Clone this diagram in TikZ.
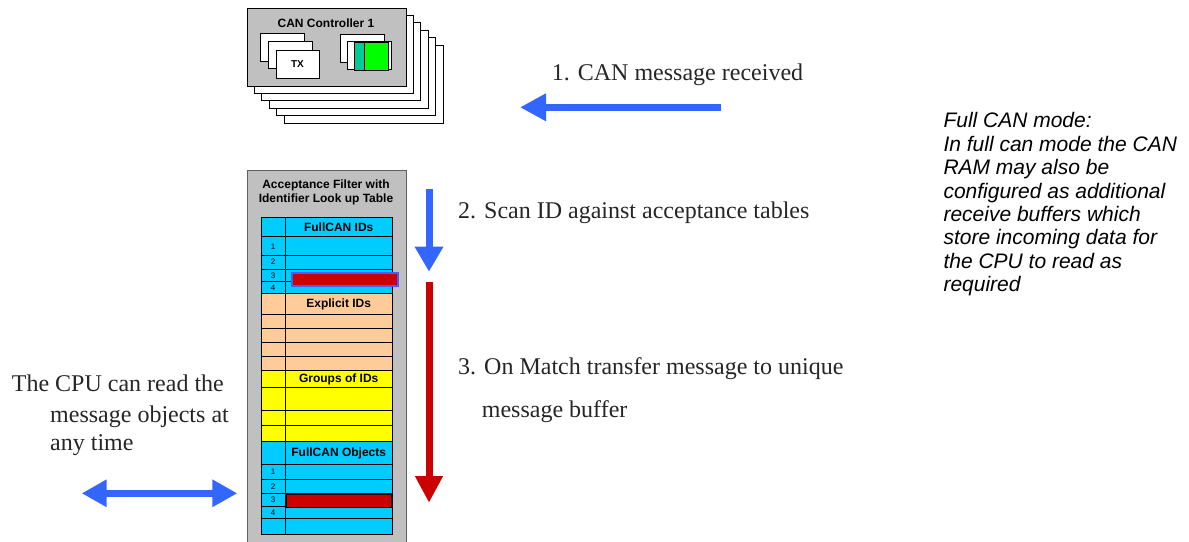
\documentclass[tikz,border=0pt]{standalone}
\usepackage{fontspec}
\setmainfont{Liberation Serif}
\newfontfamily\arial{Liberation Sans}
\usetikzlibrary{arrows.meta}
\definecolor{cgray}{HTML}{C0C0C0}
\definecolor{cdgray}{HTML}{606060}
\definecolor{ccyan}{HTML}{00CCFF}
\definecolor{cpeach}{HTML}{FFCC99}
\definecolor{cyell}{HTML}{FFFF00}
\definecolor{cred}{HTML}{CC0000}
\definecolor{cblue}{HTML}{3366FF}
\definecolor{cbord}{HTML}{4060FF}
\definecolor{cteal}{HTML}{00CC99}
\definecolor{cgreen}{HTML}{00FF00}
\tikzset{
  box/.style={draw=black, line width=0.8pt},
  tline/.style={draw=black, line width=0.8pt},
  hdr/.style={font=\arial\bfseries\fontsize{12}{14}\selectfont, inner sep=0pt},
  num/.style={font=\arial\fontsize{8}{9}\selectfont, inner sep=0pt},
  serif/.style={font=\fontsize{24}{29}\selectfont, inner sep=0pt, anchor=base west, text=black!85},
  fatblue/.style={cblue, line width=7pt},
  fatred/.style={cred, line width=7pt},
}
\begin{document}
\begin{tikzpicture}[x=1pt,y=-1pt]
\useasboundingbox (0,0) rectangle (1189,541);
% ---- CAN controller stack
\foreach \k in {5,4,3,2,1}
  \draw[box, fill=white] (246.7+7.45*\k, 8+7.4*\k) rectangle ++(159,78);
\node[box, fill=cgray, anchor=north west, minimum width=159pt, minimum height=78pt, inner sep=0pt] (ctrl) at (246.7,8) {};
\node[hdr] (ctrlt) at (326,23) {CAN Controller 1};
\draw[box, fill=white] (260.7,33.3) rectangle (304.3,61);
\draw[box, fill=white] (268.3,41.7) rectangle (312.3,68.3);
\node[box, fill=white, anchor=north west, minimum width=43.3pt, minimum height=28.3pt, inner sep=0pt] (tx) at (275.7,50) {};
\node[font=\arial\bfseries\fontsize{10}{12}\selectfont, inner sep=0pt] (txt) at (297.5,64) {TX};
\draw[box, fill=white] (340,34.3) rectangle (384,62.3);
\draw[box, fill=white] (347.7,41.7) rectangle (391.7,69.3);
\node[box, fill=cteal, anchor=north west, minimum width=10pt, minimum height=27.7pt, inner sep=0pt] (rxa) at (354,42.3) {};
\node[box, fill=cgreen, anchor=north west, minimum width=24.3pt, minimum height=27.7pt, inner sep=0pt] (rxb) at (364,42.3) {};
% ---- acceptance filter box
\node[draw=cdgray, line width=0.8pt, fill=cgray, anchor=north west, minimum width=159pt, minimum height=380pt, inner sep=0pt] (acc) at (246.7,170) {};
\node[hdr, align=center] (acct) at (326,192) {Acceptance Filter with\\Identifier Look up Table};
% table fills
\fill[ccyan] (260.7,217.3) rectangle (391.7,293.3);
\fill[cpeach] (260.7,293.3) rectangle (391.7,370.7);
\fill[cyell] (260.7,370.7) rectangle (391.7,441.7);
\fill[ccyan] (260.7,441.7) rectangle (391.7,534);
\foreach \yy in {236.7,255,269.3,281.7,293.3,314,328,342.7,356,370.7,387.3,410.7,425,441.7,464.3,479.3,493.3,506.7,518.3}
  \draw[tline] (260.7,\yy) -- (391.7,\yy);
\draw[tline] (285.7,217.3) -- (285.7,534);
\node[draw=black, line width=0.8pt, anchor=north west, minimum width=131pt, minimum height=316.7pt, inner sep=0pt] (tab) at (260.7,217.3) {};
% headers
\node[hdr] (h1) at (338.7,227.5) {FullCAN IDs};
\node[hdr] (h2) at (338.7,304) {Explicit IDs};
\node[hdr] (h3) at (338.7,379.2) {Groups of IDs};
\node[hdr] (h4) at (338.7,453.2) {FullCAN Objects};
% numbers
\node[num] (n1) at (273.2,246.8) {1};
\node[num] (n2) at (273.2,262.2) {2};
\node[num] (n3) at (273.2,275.5) {3};
\node[num] (n4) at (273.2,287.5) {4};
\node[num] (m1) at (273.2,471.8) {1};
\node[num] (m2) at (273.2,486.3) {2};
\node[num] (m3) at (273.2,500) {3};
\node[num] (m4) at (273.2,512.5) {4};
% red bars
\node[draw=cbord, line width=1.5pt, fill=cred, anchor=north west, minimum width=106.3pt, minimum height=12.7pt, inner sep=0pt] (hit) at (291,272.3) {};
\node[draw=black, line width=1.5pt, fill=cred, anchor=north west, minimum width=105pt, minimum height=13.2pt, inner sep=0pt] (obj) at (285.7,493.3) {};
% ---- arrows
\coordinate (a1s) at (721,107.3);
\coordinate (a1e) at (520,107.3);
\draw[fatblue, -{Triangle[length=26pt,width=26pt]}] (a1s) -- (a1e);
\coordinate (a2s) at (429,189.3);
\coordinate (a2e) at (429,271.7);
\draw[fatblue, -{Triangle[length=25pt,width=27pt]}] (a2s) -- (a2e);
\coordinate (a3s) at (429,281.7);
\coordinate (a3e) at (429,502.7);
\draw[fatred, -{Triangle[length=26.5pt,width=26pt]}] (a3s) -- (a3e);
\coordinate (a4s) at (81.7,493.3);
\coordinate (a4e) at (237.3,493.3);
\draw[fatblue, {Triangle[length=25pt,width=26pt]}-{Triangle[length=25pt,width=26pt]}] (a4s) -- (a4e);
% ---- texts
\node[serif] (t1) at (551.7,80) {1. CAN message received};
\node[serif] (t2) at (458,218.3) {2. Scan ID against acceptance tables};
\node[serif] (t3a) at (458,374.3) {3. On Match transfer message to unique};
\node[serif] (t3b) at (481.7,417.3) {message buffer};
\node[serif] (c1) at (11.7,391.7) {The CPU can read the};
\node[serif] (c2) at (50,422.7) {message objects at};
\node[serif] (c3) at (50,450.7) {any time};
\node[font=\arial\itshape\fontsize{21}{23.4}\selectfont, inner sep=0pt, anchor=base west, align=left] (note) at (943.3,291.7)
  {Full CAN mode:\\In full can mode the CAN\\RAM may also be\\configured as additional\\receive buffers which\\store incoming data for\\the CPU to read as\\required};
\end{tikzpicture}
\end{document}
